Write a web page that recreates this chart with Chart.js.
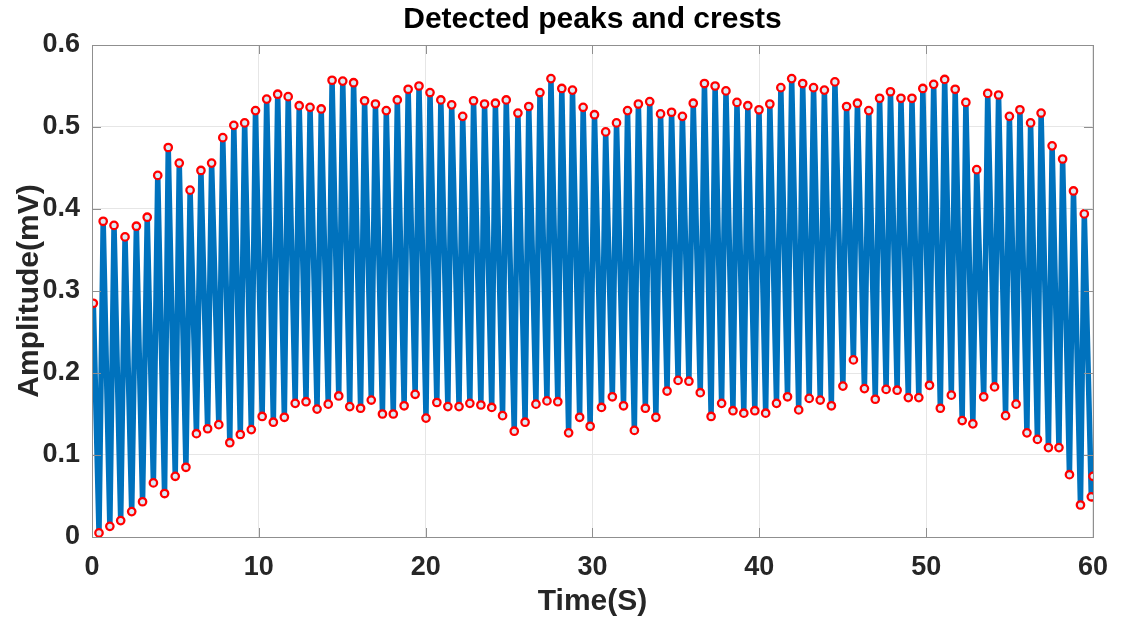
<!DOCTYPE html>
<html>
<head>
<meta charset="utf-8">
<script src="https://cdn.jsdelivr.net/npm/chart.js@4.4.1/dist/chart.umd.min.js"></script>
<style>
  html, body { margin: 0; padding: 0; background: #ffffff; }
  #wrap { width: 1122px; height: 621px; }
</style>
</head>
<body>
<div id="wrap"><canvas id="c" width="1122" height="621"></canvas></div>
<script>
// ---- data ----
const chartTitle = 'Detected peaks and crests';
const xTitle = 'Time(S)';
const yTitle = 'Amplitude(mV)';
const xTickLabels = ['0', '10', '20', '30', '40', '50', '60'];
const yTickLabels = ['0', '0.1', '0.2', '0.3', '0.4', '0.5', '0.6'];

const startPoint = [0, 0.185];
const endPoint = [60, 0.074];

const peakTimes = [0.08,0.67,1.32,1.98,2.66,3.31,3.94,4.57,5.23,5.88,6.53,7.17,7.84,8.50,9.15,9.80,10.47,11.13,11.76,12.42,13.07,13.74,14.39,15.03,15.68,16.34,16.99,17.64,18.30,18.95,19.60,20.26,20.91,21.56,22.22,22.87,23.53,24.18,24.83,25.53,26.18,26.85,27.51,28.16,28.80,29.44,30.12,30.79,31.44,32.10,32.75,33.43,34.08,34.74,35.39,36.04,36.71,37.35,38.00,38.66,39.31,39.98,40.63,41.29,41.94,42.60,43.25,43.90,44.53,45.23,45.88,46.56,47.21,47.86,48.49,49.15,49.80,50.45,51.11,51.74,52.38,53.03,53.69,54.34,54.99,55.62,56.26,56.89,57.55,58.18,58.83,59.48];
const peakValues = [0.285,0.385,0.380,0.366,0.379,0.390,0.441,0.475,0.456,0.423,0.447,0.456,0.487,0.502,0.505,0.520,0.534,0.540,0.537,0.526,0.524,0.522,0.557,0.556,0.554,0.532,0.528,0.520,0.533,0.546,0.550,0.542,0.533,0.527,0.513,0.532,0.528,0.529,0.533,0.517,0.525,0.542,0.559,0.547,0.545,0.524,0.515,0.494,0.505,0.520,0.528,0.531,0.516,0.518,0.513,0.529,0.553,0.550,0.544,0.530,0.526,0.521,0.528,0.548,0.559,0.553,0.548,0.545,0.555,0.525,0.529,0.520,0.535,0.543,0.535,0.535,0.547,0.552,0.558,0.546,0.530,0.448,0.541,0.539,0.513,0.521,0.505,0.517,0.477,0.461,0.422,0.394];
const troughTimes = [0.42,1.07,1.72,2.38,3.03,3.68,4.35,4.99,5.63,6.26,6.93,7.60,8.26,8.89,9.55,10.20,10.87,11.53,12.18,12.83,13.49,14.16,14.79,15.45,16.10,16.74,17.41,18.06,18.71,19.37,20.02,20.67,21.33,22.00,22.65,23.31,23.96,24.61,25.31,25.96,26.61,27.27,27.92,28.57,29.23,29.86,30.54,31.19,31.86,32.51,33.17,33.80,34.47,35.13,35.78,36.46,37.11,37.74,38.42,39.07,39.73,40.38,41.03,41.69,42.36,42.99,43.65,44.32,45.01,45.64,46.30,46.95,47.60,48.26,48.93,49.56,50.20,50.85,51.51,52.16,52.80,53.45,54.10,54.76,55.39,56.04,56.67,57.33,57.96,58.59,59.25,59.90];
const troughValues = [0.005,0.013,0.020,0.031,0.043,0.066,0.053,0.074,0.085,0.126,0.132,0.137,0.115,0.125,0.131,0.147,0.140,0.146,0.163,0.165,0.156,0.162,0.172,0.159,0.157,0.167,0.150,0.150,0.160,0.174,0.145,0.164,0.159,0.159,0.163,0.161,0.158,0.148,0.129,0.140,0.162,0.166,0.165,0.127,0.146,0.135,0.158,0.171,0.160,0.130,0.157,0.146,0.178,0.191,0.190,0.176,0.147,0.163,0.154,0.151,0.154,0.151,0.163,0.171,0.155,0.169,0.167,0.160,0.184,0.216,0.181,0.168,0.180,0.179,0.170,0.170,0.185,0.157,0.173,0.142,0.138,0.171,0.183,0.148,0.162,0.127,0.119,0.109,0.109,0.076,0.039,0.049];

// ---- build datasets from the arrays ----
const peakPts = peakTimes.map((t, i) => ({ x: t, y: peakValues[i] }));
const troughPts = troughTimes.map((t, i) => ({ x: t, y: troughValues[i] }));
const signalPts = [{ x: startPoint[0], y: startPoint[1] }]
  .concat(peakPts, troughPts, [{ x: endPoint[0], y: endPoint[1] }])
  .sort((a, b) => a.x - b.x);
const markerPts = peakPts.concat(troughPts, [{ x: endPoint[0], y: endPoint[1] }]);

const FRAME = '#8f8f8f';
const TEXT = '#262626';
const FONT = "'Liberation Sans', Arial, Helvetica, sans-serif";

const boxPlugin = {
  id: 'boxAndTicks',
  afterDatasetsDraw(chart) {
    const { ctx, chartArea: a, scales } = chart;
    ctx.save();
    ctx.strokeStyle = FRAME;
    ctx.lineWidth = 1;
    const tl = 9;
    ctx.beginPath();
    scales.x.ticks.forEach(t => {
      const px = Math.round(scales.x.getPixelForValue(t.value)) + 0.5;
      ctx.moveTo(px, a.bottom); ctx.lineTo(px, a.bottom - tl);
      ctx.moveTo(px, a.top); ctx.lineTo(px, a.top + tl);
    });
    scales.y.ticks.forEach(t => {
      const py = Math.round(scales.y.getPixelForValue(t.value)) + 0.5;
      ctx.moveTo(a.left, py); ctx.lineTo(a.left + tl, py);
      ctx.moveTo(a.right, py); ctx.lineTo(a.right - tl, py);
    });
    ctx.stroke();
    ctx.strokeRect(Math.round(a.left) + 0.5, Math.round(a.top) + 0.5,
                   Math.round(a.right - a.left), Math.round(a.bottom - a.top));
    ctx.restore();
  }
};

new Chart(document.getElementById('c'), {
  type: 'scatter',
  data: {
    datasets: [
      {
        label: 'markers',
        data: markerPts,
        showLine: false,
        pointStyle: 'circle',
        pointRadius: 3.7,
        pointBorderWidth: 2.3,
        pointBorderColor: '#ff0000',
        pointBackgroundColor: 'rgba(255,255,255,0.85)',
        order: 0
      },
      {
        label: 'signal',
        data: signalPts,
        showLine: true,
        borderColor: '#0072BD',
        borderWidth: 5.5,
        borderJoinStyle: 'round',
        pointRadius: 0,
        tension: 0,
        order: 1
      }
    ]
  },
  options: {
    responsive: false,
    animation: false,
    devicePixelRatio: 1,
    layout: { padding: { left: 0, right: 20, top: 0, bottom: 0 } },
    plugins: {
      legend: { display: false },
      tooltip: { enabled: false },
      title: {
        display: true,
        text: chartTitle,
        fullSize: false,
        color: '#000000',
        font: { family: FONT, size: 30, weight: 'bold', lineHeight: 1.2 },
        padding: { top: 2, bottom: 7 }
      }
    },
    scales: {
      x: {
        type: 'linear',
        min: 0, max: 60,
        afterFit(s) { s.height = 84; },
        afterBuildTicks(s) { s.ticks = xTickLabels.map(v => ({ value: Number(v) })); },
        ticks: {
          color: TEXT,
          padding: 14,
          maxRotation: 0,
          font: { family: FONT, size: 27, weight: 'bold' },
          callback: (v, i) => xTickLabels[i]
        },
        grid: { color: '#e6e6e6', lineWidth: 1, drawTicks: false },
        border: { display: true, color: FRAME },
        title: {
          display: true, text: xTitle, color: TEXT,
          font: { family: FONT, size: 30, weight: 'bold', lineHeight: 1.2 },
          padding: { top: 0, bottom: 1 }
        }
      },
      y: {
        type: 'linear',
        min: 0, max: 0.6,
        afterFit(s) { s.width = 92; },
        afterBuildTicks(s) { s.ticks = yTickLabels.map(v => ({ value: Number(v) })); },
        ticks: {
          color: TEXT,
          padding: 12,
          font: { family: FONT, size: 27, weight: 'bold' },
          callback: (v, i) => yTickLabels[i]
        },
        grid: { color: '#e6e6e6', lineWidth: 1, drawTicks: false },
        border: { display: true, color: FRAME },
        title: {
          display: true, text: yTitle, color: TEXT,
          font: { family: FONT, size: 30, weight: 'bold', lineHeight: 1.2 },
          padding: { top: 12, bottom: 0 }
        }
      }
    }
  },
  plugins: [boxPlugin]
});
</script>
</body>
</html>
